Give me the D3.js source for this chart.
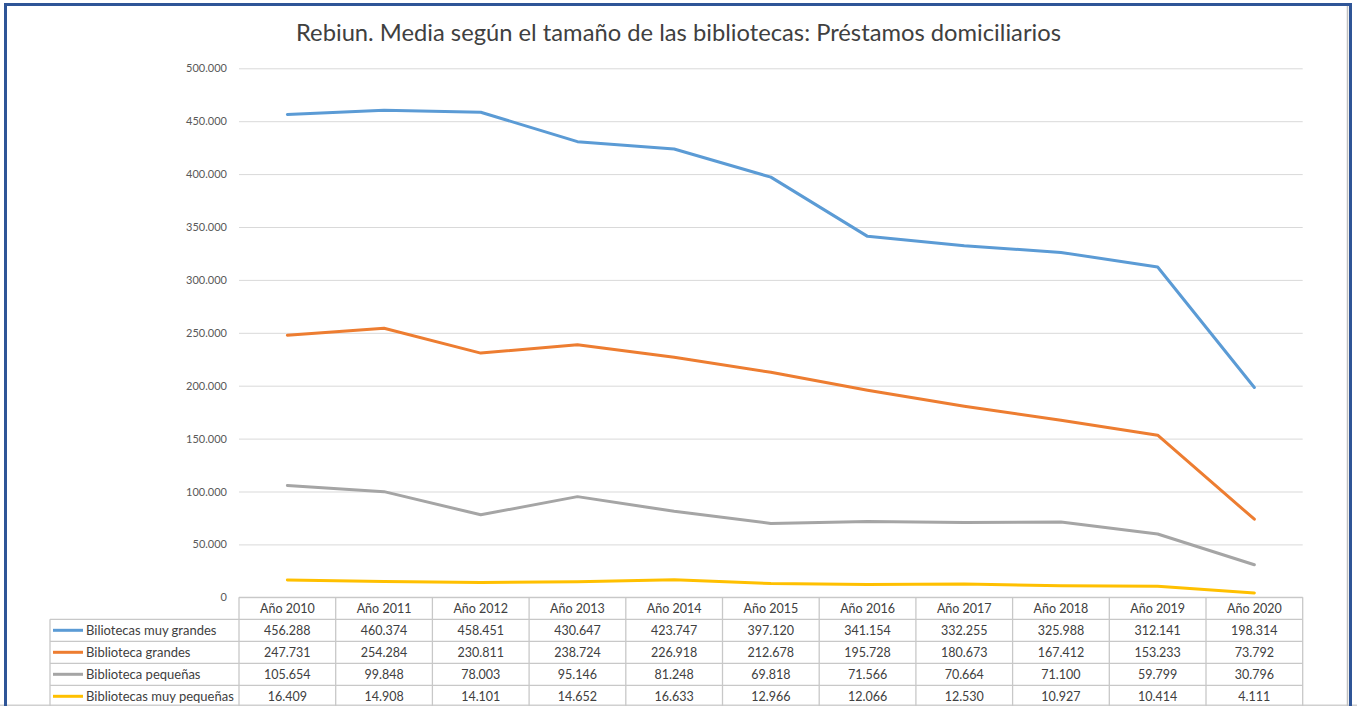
<!DOCTYPE html>
<html>
<head>
<meta charset="utf-8">
<script src="https://cdn.jsdelivr.net/npm/d3@7"></script>
<style>
  html, body { margin: 0; padding: 0; background: #fff; }
  svg { display: block; }
</style>
</head>
<body>
<svg id="chart" width="1357" height="706"></svg>
<script>
const title = "Rebiun. Media según el tamaño de las bibliotecas: Préstamos domiciliarios";
const years = ["Año 2010","Año 2011","Año 2012","Año 2013","Año 2014","Año 2015","Año 2016","Año 2017","Año 2018","Año 2019","Año 2020"];
const seriesNames = ["Biliotecas muy grandes","Biblioteca grandes","Biblioteca pequeñas","Bibliotecas muy pequeñas"];
const seriesColors = ["#5B9BD5","#ED7D31","#A5A5A5","#FFC000"];
const muyGrandes = [456288,460374,458451,430647,423747,397120,341154,332255,325988,312141,198314];
const grandes = [247731,254284,230811,238724,226918,212678,195728,180673,167412,153233,73792];
const pequenas = [105654,99848,78003,95146,81248,69818,71566,70664,71100,59799,30796];
const muyPequenas = [16409,14908,14101,14652,16633,12966,12066,12530,10927,10414,4111];
const yTicks = [0,50000,100000,150000,200000,250000,300000,350000,400000,450000,500000];

const series = [muyGrandes, grandes, pequenas, muyPequenas].map((vals, i) => ({
  name: seriesNames[i], color: seriesColors[i], values: vals
}));

const loc = d3.formatLocale({decimal: ",", thousands: ".", grouping: [3], currency: ["", "€"]});
const fmt = loc.format(",d");

const svg = d3.select("#chart");
const font = "Lato, 'Liberation Sans', sans-serif";

const plotLeft = 239, plotRight = 1302.7, plotTop = 68.3, plotBottom = 597.3;
const x = d3.scaleBand().domain(years).range([plotLeft, plotRight]).padding(0);
const y = d3.scaleLinear().domain([0, 500000]).range([plotBottom, plotTop]);
const cx = d => x(d) + x.bandwidth() / 2;

// bottom gray edge
svg.append("line").attr("x1", 0).attr("x2", 1357).attr("y1", 705.3).attr("y2", 705.3)
  .attr("stroke", "#D0D0D0").attr("stroke-width", 1.5);

// Title
svg.append("text")
  .attr("x", 678.5).attr("y", 41)
  .attr("text-anchor", "middle")
  .attr("font-family", font).attr("font-size", 22.5)
  .attr("fill", "#404040")
  .attr("textLength", 765).attr("lengthAdjust", "spacingAndGlyphs")
  .text(title);

// Gridlines
const grid = svg.append("g").attr("transform", `translate(${plotLeft},0)`)
  .call(d3.axisLeft(y).tickValues(yTicks).tickSize(-(plotRight - plotLeft)).tickFormat(""));
grid.select(".domain").remove();
grid.selectAll(".tick line").attr("stroke", "#D9D9D9").attr("stroke-width", 1);

// Y axis labels
const yAxis = svg.append("g").attr("transform", `translate(${plotLeft},0)`)
  .call(d3.axisLeft(y).tickValues(yTicks).tickSize(0).tickPadding(12).tickFormat(fmt));
yAxis.select(".domain").remove();
yAxis.selectAll("text").attr("font-family", font).attr("font-size", 11).attr("fill", "#595959");

// Lines
const line = d3.line().x((d, i) => cx(years[i])).y(d => y(d));
svg.append("g").selectAll("path").data(series).join("path")
  .attr("d", d => line(d.values))
  .attr("fill", "none")
  .attr("stroke", d => d.color)
  .attr("stroke-width", 3)
  .attr("stroke-linejoin", "round")
  .attr("stroke-linecap", "round");

// Data table
const rowH = 22;
const tableTop = plotBottom;
const legendLeft = 50;
const tbl = svg.append("g");
const borderColor = "#C8C8C8";
const nRows = series.length + 1;
for (let r = 0; r <= nRows; r++) {
  const yy = tableTop + r * rowH;
  tbl.append("line")
    .attr("x1", r === 0 ? plotLeft : legendLeft).attr("x2", plotRight)
    .attr("y1", yy).attr("y2", yy)
    .attr("stroke", borderColor).attr("stroke-width", 1.3);
}
tbl.append("line").attr("x1", legendLeft).attr("x2", legendLeft)
  .attr("y1", tableTop + rowH).attr("y2", tableTop + nRows * rowH)
  .attr("stroke", borderColor).attr("stroke-width", 1.3);
const colEdges = years.map(d => x(d)).concat([plotRight]);
tbl.selectAll("line.col").data(colEdges).join("line").attr("class", "col")
  .attr("x1", d => d).attr("x2", d => d)
  .attr("y1", tableTop).attr("y2", tableTop + nRows * rowH)
  .attr("stroke", borderColor).attr("stroke-width", 1.3);

// header
tbl.selectAll("text.hdr").data(years).join("text").attr("class", "hdr")
  .attr("x", d => cx(d)).attr("y", tableTop + rowH / 2)
  .attr("dy", "0.36em").attr("text-anchor", "middle")
  .attr("font-family", font).attr("font-size", 12.5).attr("fill", "#404040")
  .text(d => d);

// rows
series.forEach((s, i) => {
  const ry = tableTop + (i + 1) * rowH + rowH / 2;
  tbl.append("line").attr("x1", 53).attr("x2", 83).attr("y1", ry).attr("y2", ry)
    .attr("stroke", s.color).attr("stroke-width", 3);
  tbl.append("text").attr("x", 86).attr("y", ry).attr("dy", "0.36em")
    .attr("font-family", font).attr("font-size", 13).attr("fill", "#404040")
    .text(s.name);
  tbl.selectAll(null).data(s.values).join("text")
    .attr("x", (d, j) => cx(years[j])).attr("y", ry).attr("dy", "0.36em")
    .attr("text-anchor", "middle")
    .attr("font-family", font).attr("font-size", 12.5).attr("fill", "#404040")
    .text(d => fmt(d));
});

// Outer frame
svg.append("line").attr("x1", 1347.5).attr("x2", 1347.5).attr("y1", 6).attr("y2", 706)
  .attr("stroke", "#C0C0C0").attr("stroke-width", 1.5);
svg.append("path")
  .attr("d", "M5.5,706 L5.5,4.5 L1350.5,4.5 L1350.5,706")
  .attr("fill", "none").attr("stroke", "#2F5597").attr("stroke-width", 3);
</script>
</body>
</html>
